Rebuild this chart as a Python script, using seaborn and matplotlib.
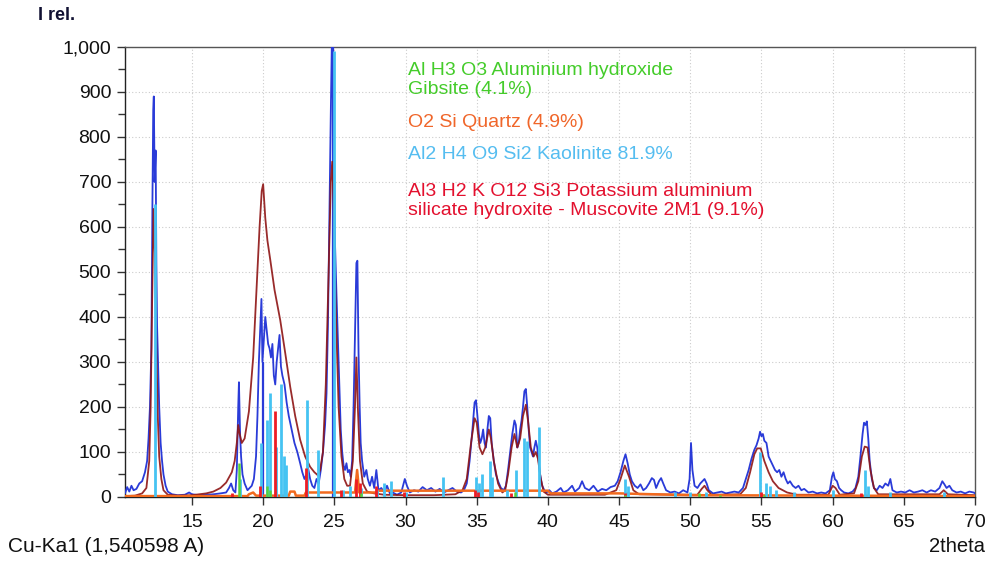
import numpy as np
import pandas as pd
import matplotlib
matplotlib.use("Agg")
import matplotlib.pyplot as plt
import seaborn as sns
from matplotlib.ticker import MultipleLocator, FuncFormatter

# ---------------- data ----------------
meas_x = [10.3, 10.45, 10.6, 10.75, 10.9, 11.1, 11.3, 11.5, 11.7, 11.85, 11.95, 12.05, 12.15, 12.22, 12.28, 12.32,
          12.38, 12.45, 12.5, 12.55, 12.62, 12.7, 12.8, 12.9, 13.0, 13.15, 13.3, 13.6, 14.0, 14.5, 14.8, 15.0,
          15.5, 16.0, 16.5, 17.0, 17.4, 17.6, 17.75, 17.9, 18.05, 18.15, 18.25, 18.3, 18.38, 18.45, 18.55, 18.7,
          18.9, 19.05, 19.2, 19.35, 19.5, 19.6, 19.7, 19.8, 19.88, 19.95, 20.05, 20.15, 20.25, 20.35, 20.45, 20.55,
          20.65, 20.75, 20.85, 20.95, 21.05, 21.15, 21.25, 21.35, 21.5, 21.65, 21.8, 22.0, 22.2, 22.4, 22.6, 22.75,
          22.9, 23.05, 23.15, 23.3, 23.45, 23.6, 23.75, 23.9, 24.05, 24.2, 24.35, 24.45, 24.55, 24.65, 24.75, 24.82,
          24.9, 24.97, 25.05, 25.15, 25.25, 25.35, 25.45, 25.55, 25.65, 25.75, 25.85, 25.95, 26.05, 26.15, 26.25,
          26.35, 26.45, 26.55, 26.62, 26.7, 26.78, 26.85, 26.95, 27.1, 27.25, 27.35, 27.5, 27.65, 27.8, 27.95, 28.1,
          28.3, 28.5, 28.7, 28.9, 29.1, 29.4, 29.7, 29.95, 30.1, 30.3, 30.6, 30.9, 31.2, 31.5, 31.8, 32.1, 32.4,
          32.7, 33.0, 33.3, 33.6, 33.9, 34.1, 34.3, 34.5, 34.7, 34.85, 34.95, 35.05, 35.15, 35.25, 35.35, 35.45,
          35.55, 35.65, 35.75, 35.85, 35.95, 36.05, 36.2, 36.35, 36.5, 36.7, 36.9, 37.05, 37.2, 37.35, 37.5, 37.65,
          37.75, 37.85, 37.95, 38.05, 38.15, 38.25, 38.35, 38.45, 38.55, 38.65, 38.75, 38.85, 38.95, 39.05, 39.15,
          39.25, 39.35, 39.45, 39.6, 39.75, 39.9, 40.1, 40.3, 40.6, 40.9, 41.1, 41.4, 41.7, 41.9, 42.2, 42.4, 42.6,
          42.9, 43.2, 43.5, 43.8, 44.1, 44.4, 44.7, 44.9, 45.1, 45.3, 45.45, 45.6, 45.75, 45.9, 46.1, 46.3, 46.5,
          46.7, 46.9, 47.1, 47.3, 47.45, 47.6, 47.8, 47.95, 48.1, 48.3, 48.6, 48.9, 49.2, 49.5, 49.8, 49.95, 50.05,
          50.15, 50.3, 50.5, 50.7, 50.85, 51.0, 51.15, 51.3, 51.6, 51.9, 52.2, 52.5, 52.8, 53.1, 53.4, 53.7, 53.9,
          54.1, 54.3, 54.5, 54.65, 54.8, 54.9, 55.0, 55.1, 55.2, 55.35, 55.5, 55.65, 55.8, 55.95, 56.1, 56.25, 56.4,
          56.55, 56.7, 56.85, 57.0, 57.2, 57.4, 57.6, 57.8, 58.0, 58.3, 58.6, 58.9, 59.2, 59.5, 59.8, 59.95, 60.05,
          60.15, 60.3, 60.45, 60.6, 60.8, 61.1, 61.4, 61.6, 61.8, 61.95, 62.1, 62.2, 62.3, 62.4, 62.5, 62.6, 62.75,
          62.9, 63.1, 63.3, 63.5, 63.7, 63.9, 64.05, 64.2, 64.5, 64.8, 65.1, 65.4, 65.7, 66.0, 66.3, 66.6, 66.9,
          67.2, 67.5, 67.7, 67.85, 68.0, 68.2, 68.4, 68.7, 69.0, 69.3, 69.6, 69.9, 70.0]
meas_y = [8, 22, 12, 25, 15, 18, 30, 35, 55, 80, 130, 200, 330, 640, 860, 890,
          700, 770, 520, 380, 300, 200, 120, 80, 50, 25, 12, 6, 4, 5, 10, 6,
          4, 5, 6, 8, 10, 20, 30, 15, 10, 60, 200, 255, 140, 90, 50, 30,
          15, 20, 25, 40, 90, 180, 300, 380, 440, 300, 350, 400, 370, 340, 330, 310,
          340, 270, 250, 300, 330, 360, 290, 270, 250, 210, 180, 150, 120, 100, 75, 55,
          40, 50, 65, 40, 25, 20, 40, 30, 60, 100, 160, 230, 380, 620, 850, 1000,
          880, 780, 560, 450, 350, 250, 150, 100, 70, 60, 75, 55, 60, 45, 80,
          200, 360, 520, 525, 320, 200, 120, 80, 45, 60, 40, 25, 45, 20, 60, 15,
          20, 10, 25, 8, 10, 5, 10, 40, 25, 10, 15, 12, 22, 15, 20, 12, 18,
          10, 15, 20, 12, 10, 15, 30, 80, 150, 210, 215, 180, 140, 120, 130, 150,
          120, 110, 150, 180, 175, 120, 80, 50, 35, 20, 15, 25, 60, 100, 140, 170,
          160, 110, 120, 150, 170, 200, 235, 240, 200, 150, 110, 100, 90, 110, 125,
          110, 80, 50, 25, 15, 10, 15, 8, 12, 20, 10, 15, 25, 12, 20, 35, 20,
          15, 25, 12, 18, 15, 22, 25, 35, 55, 80, 95, 75, 50, 35, 25, 20, 28,
          15, 20, 30, 42, 38, 20, 35, 42, 30, 15, 10, 12, 8, 15, 10, 40, 120,
          60, 25, 20, 30, 35, 40, 30, 15, 8, 10, 12, 8, 10, 12, 10, 20, 40,
          60, 85, 105, 115, 130, 145, 135, 140, 125, 120, 90, 80, 70, 60, 55, 60, 45,
          55, 40, 30, 35, 25, 20, 25, 15, 18, 10, 12, 8, 10, 8, 15, 45, 55,
          40, 35, 20, 15, 10, 8, 12, 20, 45, 90, 140, 165, 160, 168, 130, 80, 40,
          20, 15, 25, 20, 30, 25, 40, 15, 10, 12, 10, 15, 10, 12, 15, 10, 15,
          12, 20, 35, 28, 20, 25, 15, 10, 12, 8, 12, 10, 8]

calc_x = [10.3, 11.0, 11.5, 11.8, 12.0, 12.1, 12.2, 12.3, 12.4, 12.5, 12.6, 12.7, 12.85, 13.0, 13.3, 14.0, 15.0,
          16.0, 16.5, 17.0, 17.4, 17.8, 18.0, 18.15, 18.25, 18.35, 18.5, 18.7, 19.0, 19.3, 19.55, 19.75, 19.9,
          20.0, 20.15, 20.3, 20.5, 20.8, 21.2, 21.55, 21.9, 22.25, 22.6, 22.95, 23.3, 23.6, 23.85, 24.0, 24.2,
          24.4, 24.6, 24.75, 24.85, 24.95, 25.1, 25.3, 25.5, 25.7, 25.9, 26.1, 26.3, 26.45, 26.55, 26.65, 26.8,
          27.0, 27.3, 27.8, 28.5, 30.0, 32.0, 33.5, 34.0, 34.3, 34.6, 34.85, 35.0, 35.2, 35.4, 35.6, 35.85, 36.0,
          36.2, 36.5, 36.8, 37.0, 37.2, 37.45, 37.65, 37.85, 38.05, 38.25, 38.45, 38.6, 38.8, 39.0, 39.15, 39.3,
          39.5, 39.7, 40.0, 44.0, 44.8, 45.1, 45.4, 45.7, 46.0, 46.4, 50.5, 50.8, 51.0, 51.2, 51.5, 53.5, 53.9,
          54.2, 54.5, 54.7, 54.95, 55.2, 55.5, 55.8, 56.2, 56.8, 57.5, 59.7, 60.0, 60.2, 60.5, 61.5, 61.8, 62.05,
          62.25, 62.45, 62.65, 62.9, 63.2, 67.5, 67.8, 68.1, 70.0]
calc_y = [2, 3, 8, 20, 80, 200, 430, 640, 540, 330, 180, 90, 40, 15, 5, 3, 4,
          8, 12, 20, 32, 55, 80, 120, 160, 140, 120, 130, 190, 310, 470, 600, 680,
          695, 620, 570, 527, 460, 393, 320, 245, 180, 127, 90, 67, 55, 48, 60, 100,
          250, 500, 700, 745, 650, 420, 200, 90, 40, 25, 25, 80, 200, 310, 200, 80,
          30, 12, 8, 5, 4, 4, 6, 15, 40, 120, 175, 165, 110, 95, 110, 150, 130,
          80, 30, 10, 15, 50, 110, 140, 110, 130, 180, 205, 170, 110, 90, 100, 85,
          40, 12, 5, 5, 15, 40, 70, 45, 15, 6, 5, 18, 25, 15, 5, 6, 20,
          55, 95, 108, 108, 80, 55, 35, 20, 10, 5, 5, 25, 20, 5, 8, 35, 90,
          112, 110, 60, 20, 6, 6, 15, 6, 4]

kaol_pos = [12.4, 18.4, 19.85, 20.3, 20.45, 20.9, 21.25, 21.45, 21.6, 23.1, 23.85, 24.95, 25.6, 26.1, 26.9,
            28.0, 28.5, 29.0, 30.0, 32.6, 34.95, 35.15, 35.4, 35.9, 36.1, 37.1, 37.75, 38.35, 38.55, 39.35,
            45.4, 45.6, 48.9, 50.0, 51.1, 54.9, 55.3, 55.6, 56.0, 57.3, 60.0, 62.3, 62.5, 64.0, 67.8]
kaol_int = [650, 40, 120, 170, 230, 110, 250, 90, 70, 215, 105, 990, 15, 25, 20,
            15, 30, 35, 10, 45, 45, 30, 50, 80, 45, 15, 60, 130, 125, 155,
            40, 25, 10, 10, 12, 100, 30, 25, 15, 10, 15, 60, 25, 10, 12]

musc_pos = [17.8, 19.8, 20.8, 23.0, 25.5, 26.5, 26.8, 27.9, 29.9, 34.9, 35.1, 37.4, 45.4, 55.0, 62.0]
musc_int = [8, 25, 190, 65, 15, 40, 30, 25, 10, 15, 12, 8, 8, 10, 8]

gibb_pos = [18.3, 20.3, 20.5, 26.9, 37.7, 45.4, 50.6, 52.1, 55.2]
gibb_int = [75, 25, 15, 8, 10, 5, 8, 5, 5]

quartz_x = [10.3, 18.9, 19.0, 19.3, 19.5, 21.8, 21.9, 22.2, 22.3, 22.9, 23.0, 26.45, 26.6, 26.75, 28.0, 28.1,
            40.0, 40.2, 45.0, 50.0, 70.0]
quartz_y = [2, 2, 6, 10, 3, 3, 12, 12, 3, 3, 10, 10, 60, 10, 10, 14, 14, 8, 8, 4, 2]

meas_sticks_pos = [20.0, 24.88]
meas_sticks_int = [300, 1000]

phase_lines = ["Al H3 O3 Aluminium hydroxide\nGibsite (4.1%)",
               "O2 Si Quartz (4.9%)",
               "Al2 H4 O9 Si2 Kaolinite 81.9%",
               "Al3 H2 K O12 Si3 Potassium aluminium\nsilicate hydroxite - Muscovite 2M1 (9.1%)"]

# ---------------- style ----------------
sns.set_theme(style="white")
plt.rcParams['font.family'] = ['Liberation Sans', 'DejaVu Sans']

c_meas = "#2a3bd8"
c_calc = "#8e1414"
c_kaol = "#45c3f2"
c_musc = "#ee1c24"
c_gibb = "#55d13a"
c_quar = "#f26a1e"

fig = plt.figure(figsize=(9.9, 5.61), dpi=100)
ax = fig.add_axes([0.1263, 0.1141, 0.8586, 0.8022])

df_meas = pd.DataFrame({"x": meas_x, "y": meas_y})
df_calc = pd.DataFrame({"x": calc_x, "y": calc_y})
df_q = pd.DataFrame({"x": quartz_x, "y": quartz_y})

sns.lineplot(data=df_meas, x="x", y="y", ax=ax, color=c_meas, lw=1.3, sort=False,
             estimator=None, zorder=3)
ax.vlines(meas_sticks_pos, 0, meas_sticks_int, color=c_meas, lw=1.6, zorder=3)
sns.lineplot(data=df_calc, x="x", y="y", ax=ax, color=c_calc, lw=1.3, sort=False,
             estimator=None, zorder=4, alpha=0.9)
sns.lineplot(data=df_q, x="x", y="y", ax=ax, color=c_quar, lw=1.8, sort=False,
             estimator=None, zorder=4)
ax.vlines(kaol_pos, 0, kaol_int, color=c_kaol, lw=2.0, zorder=5)
ax.vlines(musc_pos, 0, musc_int, color=c_musc, lw=2.0, zorder=5)
ax.vlines(gibb_pos, 0, gibb_int, color=c_gibb, lw=1.8, zorder=5)

ax.set_xlim(10.3, 70)
ax.set_ylim(0, 1000)
ax.yaxis.set_major_locator(MultipleLocator(100))
ax.yaxis.set_minor_locator(MultipleLocator(50))
ax.yaxis.set_major_formatter(FuncFormatter(lambda v, p: f"{int(v):,}"))
ax.set_xticks([15, 20, 25, 30, 35, 40, 45, 50, 55, 60, 65, 70])
ax.tick_params(axis="both", which="major", direction="out", length=6, width=1,
               color="#333333", labelsize=14, labelcolor="#111111", pad=4,
               bottom=True, left=True)
ax.tick_params(axis="x", which="major", pad=6)
ax.tick_params(axis="y", which="minor", direction="out", length=5, width=1,
               color="#333333", left=True)
ax.grid(True, which="major", color="#cccccc", lw=0.8, ls=(0, (1, 2)))
for s in ax.spines.values():
    s.set_color("#555555")
    s.set_linewidth(1.0)
ax.spines["left"].set_color("#222222")
ax.spines["bottom"].set_color("#222222")
ax.set_xlabel("")
ax.set_ylabel("")

# phase legend texts
txt_cols = ["#44cc2a", "#f0662a", "#55bdf0", "#e3102e"]
txt_y = [926, 833, 760, 658]
for t, c, yy in zip(phase_lines, txt_cols, txt_y):
    ax.text(30.15, yy, t, color=c, fontsize=14, va="center", ha="left",
            linespacing=1.18, zorder=6)

fig.text(38 / 990, 1 - 16 / 561, "I rel.", fontsize=13, fontweight="bold",
         color="#111133", va="center", ha="left")
fig.text(8 / 990, 1 - 547 / 561, "Cu-Ka1 (1,540598 A)", fontsize=15,
         color="#111111", va="center", ha="left")
fig.text(985 / 990, 1 - 547 / 561, "2theta", fontsize=14.5, color="#111111",
         va="center", ha="right")

fig.savefig("out.png", dpi=100)
